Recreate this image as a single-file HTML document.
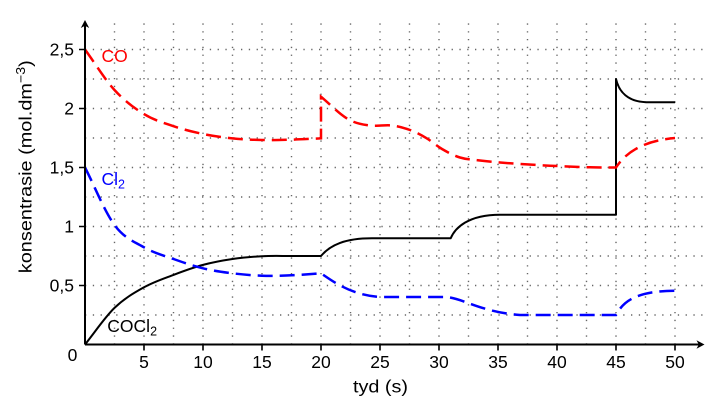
<!DOCTYPE html>
<html>
<head>
<meta charset="utf-8">
<style>
html,body{margin:0;padding:0;background:#ffffff;}
svg{display:block;}
</style>
</head>
<body>
<svg width="719" height="406" viewBox="0 0 719 406" xmlns="http://www.w3.org/2000/svg" font-family="'Liberation Sans', sans-serif">
<rect x="0" y="0" width="719" height="406" fill="#ffffff"/>

<!-- grid -->
<g stroke="#666666" stroke-width="1.4" stroke-dasharray="1.3 6.5" fill="none">
<path d="M114.5,344.5V20.5 M144,344.5V20.5 M173.5,344.5V20.5 M203,344.5V20.5 M232.5,344.5V20.5 M262,344.5V20.5 M291.5,344.5V20.5 M321,344.5V20.5 M350.5,344.5V20.5 M380,344.5V20.5 M409.5,344.5V20.5 M439,344.5V20.5 M468.5,344.5V20.5 M498,344.5V20.5 M527.5,344.5V20.5 M557,344.5V20.5 M586.5,344.5V20.5 M616,344.5V20.5 M645.5,344.5V20.5 M675,344.5V20.5"/>
<path d="M85,315H704 M85,285.5H704 M85,256H704 M85,226.5H704 M85,197H704 M85,167.5H704 M85,138H704 M85,108.5H704 M85,79H704 M85,49.5H704"/>
</g>

<!-- COCl2 black -->
<path fill="none" stroke="#000000" stroke-width="2" stroke-linejoin="round" d="M85,344.5 C94.83,332.3 104.67,317.43 114.5,307.9 C124.33,298.37 134.17,292.8 144,287.3 C153.83,281.8 163.67,278.63 173.5,274.9 C183.33,271.17 193.17,267.55 203,264.9 C212.83,262.25 222.67,260.45 232.5,259 C242.33,257.55 252.17,256.7 262,256.2 C271.83,255.7 281.67,256.03 291.5,256 L321,256 C330,245 345,238.3 372,238.3 L450.7,238.3 C455,228 468,214.7 500,214.7 L616,214.7 L616,79 C619,92 628,101.5 646,102.3 L675,102.3"/>

<!-- CO red dashed -->
<path fill="none" stroke="#ff0000" stroke-width="2.5" stroke-dasharray="15 7" d="M85,49.5 C94.83,63 104.67,79.24 114.5,90 C124.33,100.76 134.17,108.02 144,114.05 C153.83,120.08 163.67,122.87 173.5,126.2 C183.33,129.53 193.17,131.98 203,134 C212.83,136.03 222.67,137.35 232.5,138.35 C242.33,139.35 252.17,139.78 262,140 C271.83,140.22 281.67,139.93 291.5,139.65 C301.33,139.37 311.17,138.78 321,138.35 L321,96.7 C329.57,103.9 338.87,113.53 346.7,118.3 C354.53,123.07 360.45,124.1 368,125.3 C375.55,126.5 385,124.72 392,125.5 C399,126.28 404.22,127.87 410,130 C415.78,132.13 421.37,135.13 426.7,138.3 C432.03,141.47 436.45,145.8 442,149 C447.55,152.2 453.67,155.58 460,157.5 C466.33,159.42 471.67,159.53 480,160.5 C488.33,161.47 498.33,162.43 510,163.3 C521.67,164.17 536.67,165.03 550,165.7 C563.33,166.37 579,167 590,167.3 C601,167.6 611.67,167.43 616,167.5 C624,155 640,141 675,138"/>

<!-- Cl2 blue dashed -->
<path fill="none" stroke="#0000ff" stroke-width="2.5" stroke-dasharray="15 7" d="M85,167.5 C94.83,186.67 104.67,211.7 114.5,225 C124.33,238.3 134.17,241.63 144,247.3 C153.83,252.97 163.67,255.5 173.5,259 C183.33,262.5 193.17,265.92 203,268.3 C212.83,270.68 222.67,272.07 232.5,273.3 C242.33,274.53 252.17,275.37 262,275.7 C271.83,276.03 281.67,275.7 291.5,275.3 C301.33,274.9 311.17,273.97 321,273.3 C335,283 352,295 380,297 L445,297 C462,297.5 480,312 520,315 L616,315 C623,302 635,291 675,290.7"/>

<!-- axes -->
<g stroke="#000000" fill="none">
<path stroke-width="2" d="M85,344.5H700 M85,344.5V25"/>
<path stroke-width="1.6" d="M79,285.5H85 M79,226.5H85 M79,167.5H85 M79,108.5H85 M79,49.5H85"/>
<path stroke-width="1.6" d="M144,344.5V350.5 M203,344.5V350.5 M262,344.5V350.5 M321,344.5V350.5 M380,344.5V350.5 M439,344.5V350.5 M498,344.5V350.5 M557,344.5V350.5 M616,344.5V350.5 M675,344.5V350.5"/>
</g>
<path fill="#000000" d="M704.5,344.5 L696.5,340.3 L698.8,344.5 L696.5,348.7 Z"/>
<path fill="#000000" d="M85,20 L80.8,28 L85,25.7 L89.2,28 Z"/>

<!-- tick labels -->
<g font-size="17.5" fill="#000000">
<g text-anchor="end">
<text x="74" y="291.3">0,5</text>
<text x="74" y="232.3">1</text>
<text x="74" y="173.3">1,5</text>
<text x="74" y="114.3">2</text>
<text x="74" y="55.3">2,5</text>
</g>
<text x="72.5" y="361" text-anchor="middle">0</text>
<g text-anchor="middle">
<text x="144" y="368">5</text>
<text x="203" y="368">10</text>
<text x="262" y="368">15</text>
<text x="321" y="368">20</text>
<text x="380" y="368">25</text>
<text x="439" y="368">30</text>
<text x="498" y="368">35</text>
<text x="557" y="368">40</text>
<text x="616" y="368">45</text>
<text x="675" y="368">50</text>
</g>
<text x="380.5" y="392.5" text-anchor="middle" textLength="55" lengthAdjust="spacingAndGlyphs">tyd (s)</text>
<text transform="translate(31.5,166.7) rotate(-90)" text-anchor="middle" textLength="213" lengthAdjust="spacingAndGlyphs">konsentrasie (mol.dm<tspan font-size="12.5" dy="-6.5">−3</tspan><tspan dy="6.5">)</tspan></text>
</g>

<!-- series labels -->
<text x="101.5" y="62" font-size="17.5" fill="#ff0000">CO</text>
<text x="101.5" y="185" font-size="17.5" fill="#0000ff">Cl<tspan font-size="12.5" dy="3.5">2</tspan></text>
<text x="107.3" y="332" font-size="17.5" fill="#000000">COCl<tspan font-size="12.5" dy="3.5">2</tspan></text>
</svg>
</body>
</html>
